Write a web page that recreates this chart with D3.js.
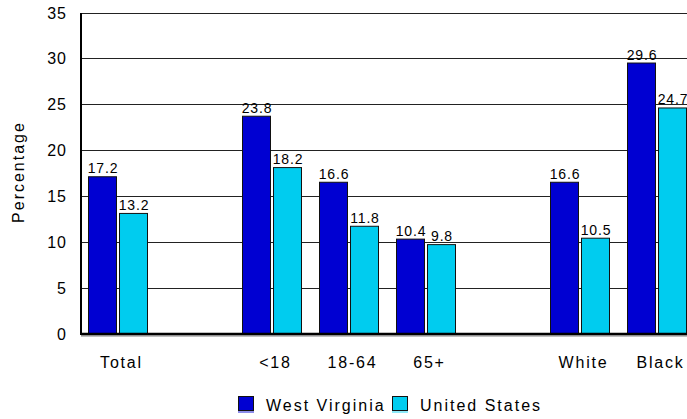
<!DOCTYPE html>
<html>
<head>
<meta charset="utf-8">
<script src="https://cdn.jsdelivr.net/npm/d3@7"></script>
<style>
  html, body { margin: 0; padding: 0; background: #fff; }
  svg { display: block; font-family: "Liberation Sans", Arial, sans-serif; }
</style>
</head>
<body>
<svg id="chart" width="687" height="419"></svg>
<script>
// Poverty rates by group, West Virginia vs. United States
const slots = ["Total", "gapA", "<18", "18-64", "65+", "gapB", "White", "Black"];
const categories = ["Total", "<18", "18-64", "65+", "White", "Black"];
const westVirginia = [17.2, 23.8, 16.6, 10.4, 16.6, 29.6];
const unitedStates = [13.2, 18.2, 11.8, 9.8, 10.5, 24.7];
const seriesNames = ["West Virginia", "United States"];
const seriesColors = ["#0000d2", "#00ccef"];
const yTicks = [0, 5, 10, 15, 20, 25, 30, 35];

const svg = d3.select("#chart");
const plotLeft = 81, plotTop = 13, plotBottom = 334;
const slotWidth = 77;

const x = d3.scaleBand().domain(slots).range([plotLeft, plotLeft + slots.length * slotWidth]);
const xInner = d3.scaleBand().domain(seriesNames).range([7, 67]).paddingInner(0.065);
const y = d3.scaleLinear().domain([0, 35]).range([plotBottom, plotTop]);

// horizontal gridlines
svg.append("g")
  .selectAll("line")
  .data(yTicks.filter(t => t > 0))
  .join("line")
  .attr("x1", plotLeft).attr("x2", 687)
  .attr("y1", d => y(d)).attr("y2", d => y(d))
  .attr("stroke", "#222").attr("stroke-width", 1)
  .attr("shape-rendering", "crispEdges");

// y tick labels
const yAxis = d3.axisLeft(y).tickValues(yTicks).tickSize(0).tickPadding(14);
const yg = svg.append("g").attr("transform", `translate(${plotLeft},0)`).call(yAxis);
yg.select(".domain").remove();
yg.selectAll("text")
  .attr("font-size", 16).attr("fill", "#000")
  .attr("letter-spacing", 1)
  .attr("font-family", "Liberation Sans, Arial, sans-serif");

// y axis title
svg.append("text")
  .attr("transform", "translate(24,172) rotate(-90)")
  .attr("text-anchor", "middle")
  .attr("font-size", 16)
  .attr("letter-spacing", 2)
  .text("Percentage");

// bars
const rows = categories.map((c, i) => ({ cat: c, vals: [westVirginia[i], unitedStates[i]] }));
const groups = svg.append("g")
  .selectAll("g")
  .data(rows)
  .join("g")
  .attr("transform", d => `translate(${x(d.cat)},0)`);

groups.selectAll("rect")
  .data(d => d.vals.map((v, j) => ({ name: seriesNames[j], v, j })))
  .join("rect")
  .attr("x", d => xInner(d.name) + 0.5)
  .attr("y", d => y(d.v) + 0.5)
  .attr("width", xInner.bandwidth() - 1)
  .attr("height", d => y(0) - y(d.v) - 1)
  .attr("fill", d => seriesColors[d.j])
  .attr("stroke", "#111")
  .attr("stroke-width", 1);

// value labels
groups.selectAll("text")
  .data(d => d.vals.map((v, j) => ({ name: seriesNames[j], v })))
  .join("text")
  .attr("x", d => xInner(d.name) + xInner.bandwidth() / 2 + 0.5)
  .attr("y", d => y(d.v) - 3)
  .attr("text-anchor", "middle")
  .attr("font-size", 14)
  .attr("letter-spacing", 0.8)
  .text(d => d.v.toFixed(1));

// axis lines
svg.append("line")
  .attr("x1", plotLeft).attr("x2", 687)
  .attr("y1", plotBottom + 2).attr("y2", plotBottom + 2)
  .attr("stroke", "#aaa").attr("stroke-width", 1.5);
svg.append("line")
  .attr("x1", plotLeft).attr("x2", 687)
  .attr("y1", plotBottom).attr("y2", plotBottom)
  .attr("stroke", "#000").attr("stroke-width", 2.5);
svg.append("line")
  .attr("x1", plotLeft).attr("x2", plotLeft)
  .attr("y1", plotTop).attr("y2", plotBottom + 1)
  .attr("stroke", "#000").attr("stroke-width", 2);

// category labels
svg.append("g")
  .selectAll("text")
  .data(categories)
  .join("text")
  .attr("x", d => x(d) + x.bandwidth() / 2 + 2)
  .attr("y", 368)
  .attr("text-anchor", "middle")
  .attr("font-size", 16)
  .attr("letter-spacing", 1.8)
  .text(d => d);

// legend
const legendX = [238, 392];
const legend = svg.append("g")
  .selectAll("g")
  .data(seriesNames)
  .join("g")
  .attr("transform", (d, i) => `translate(${legendX[i]},396)`);
legend.append("rect")
  .attr("x", 0.5).attr("y", 0.5).attr("width", 15).attr("height", 14)
  .attr("fill", (d, i) => seriesColors[i])
  .attr("stroke", "#111").attr("stroke-width", 1);
legend.append("line")
  .attr("x1", 0).attr("x2", 16).attr("y1", 16).attr("y2", 16)
  .attr("stroke", (d, i) => seriesColors[i]).attr("stroke-width", 1.5)
  .attr("opacity", 0.6);
legend.append("text")
  .attr("x", 28).attr("y", 15)
  .attr("font-size", 16)
  .attr("letter-spacing", 2)
  .text(d => d);
</script>
</body>
</html>
